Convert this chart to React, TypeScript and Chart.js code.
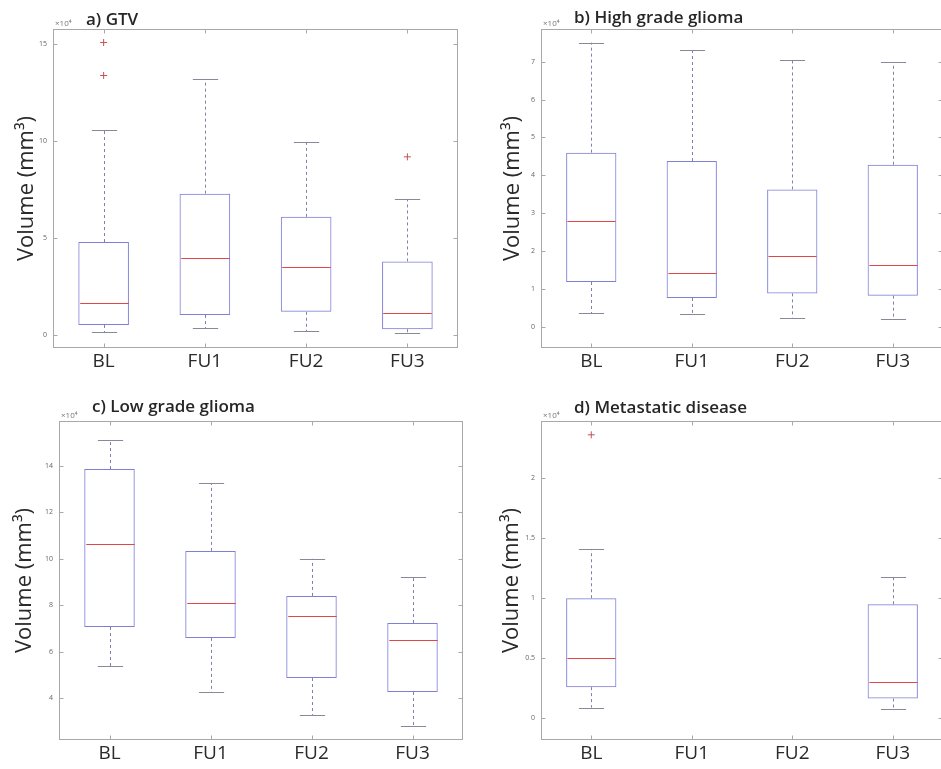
import React, { useEffect, useRef } from 'react';
import { Chart, registerables } from 'chart.js';

Chart.register(...registerables);

const FONT = '"Open Sans", sans-serif';
const BOX = '#7f7fd8';
const WHISK = '#8080b0';
const CAP = '#888898';
const MED = '#e04848';
const OUT = '#c85050';
const FRAME = '#a8a8a8';

// Categories (shared)
const categories = ['BL', 'FU1', 'FU2', 'FU3'];

// a) GTV (x10^4 mm^3)
const gtvMin = [0.15, 0.35, 0.2, 0.1];
const gtvQ1 = [0.52, 1.03, 1.2, 0.3];
const gtvMed = [1.65, 4.0, 3.5, 1.15];
const gtvQ3 = [4.8, 7.3, 6.1, 3.8];
const gtvMax = [10.6, 13.2, 9.95, 7.0];
const gtvOutliers = [[15.1, 13.4], [], [], [9.2]];
const gtvTicks = [0, 5, 10, 15];

// b) High grade glioma
const hggMin = [0.37, 0.35, 0.25, 0.21];
const hggQ1 = [1.19, 0.77, 0.89, 0.83];
const hggMed = [2.8, 1.42, 1.87, 1.65];
const hggQ3 = [4.6, 4.38, 3.63, 4.28];
const hggMax = [7.5, 7.3, 7.03, 6.98];
const hggOutliers = [[], [], [], []];
const hggTicks = [0, 1, 2, 3, 4, 5, 6, 7];

// c) Low grade glioma
const lggMin = [5.38, 4.26, 3.27, 2.8];
const lggQ1 = [7.06, 6.59, 4.86, 4.26];
const lggMed = [10.64, 8.1, 7.53, 6.5];
const lggQ3 = [13.87, 10.34, 8.4, 7.23];
const lggMax = [15.1, 13.27, 10.0, 9.22];
const lggOutliers = [[], [], [], []];
const lggTicks = [4, 6, 8, 10, 12, 14];

// d) Metastatic disease
const metMin = [0.09, null, null, 0.08];
const metQ1 = [0.26, null, null, 0.165];
const metMed = [0.5, null, null, 0.3];
const metQ3 = [1.0, null, null, 0.95];
const metMax = [1.41, null, null, 1.18];
const metOutliers = [[2.36], [], [], []];
const metTicks = [0, 0.5, 1, 1.5, 2];

type Panel = {
  title: string;
  min: (number | null)[];
  q1: (number | null)[];
  med: (number | null)[];
  q3: (number | null)[];
  max: (number | null)[];
  outliers: number[][];
  ticks: number[];
  yMin: number;
  yMax: number;
  left: number;
  top: number;
  width: number;
  height: number;
  yAxisW: number;
  xAxisH: number;
  padTop: number;
  padRight: number;
  labelPad: number;
  titleDy: number;
};

const panels: Panel[] = [
  {
    title: 'a) GTV', min: gtvMin, q1: gtvQ1, med: gtvMed, q3: gtvQ3, max: gtvMax,
    outliers: gtvOutliers, ticks: gtvTicks, yMin: -0.67, yMax: 15.8,
    left: 0, top: 0, width: 470, height: 380, yAxisW: 53, xAxisH: 32, padTop: 29, padRight: 12,
    labelPad: 14, titleDy: -4,
  },
  {
    title: 'b) High grade glioma', min: hggMin, q1: hggQ1, med: hggMed, q3: hggQ3, max: hggMax,
    outliers: hggOutliers, ticks: hggTicks, yMin: -0.55, yMax: 7.86,
    left: 470, top: 0, width: 480, height: 380, yAxisW: 71, xAxisH: 32, padTop: 29, padRight: 7,
    labelPad: 30, titleDy: -6,
  },
  {
    title: 'c) Low grade glioma', min: lggMin, q1: lggQ1, med: lggMed, q3: lggQ3, max: lggMax,
    outliers: lggOutliers, ticks: lggTicks, yMin: 2.19, yMax: 15.94,
    left: 0, top: 380, width: 470, height: 389, yAxisW: 59, xAxisH: 29, padTop: 41, padRight: 7,
    labelPad: 12, titleDy: -9,
  },
  {
    title: 'd) Metastatic disease', min: metMin, q1: metQ1, med: metMed, q3: metQ3, max: metMax,
    outliers: metOutliers, ticks: metTicks, yMin: -0.18, yMax: 2.475,
    left: 470, top: 380, width: 480, height: 389, yAxisW: 71, xAxisH: 29, padTop: 41, padRight: 7,
    labelPad: 29, titleDy: -8,
  },
];

function makePlugin(p: Panel) {
  return {
    id: 'boxExtras',
    afterDatasetsDraw(chart: any) {
      const ctx = chart.ctx;
      const xs = chart.scales.x;
      const ys = chart.scales.y;
      const step = xs.getPixelForValue(1) - xs.getPixelForValue(0);
      const hw = step * 0.25;
      ctx.save();
      ctx.lineWidth = 1;
      p.med.forEach((m, i) => {
        if (m == null) return;
        const cx = Math.round(xs.getPixelForValue(i)) + 0.5;
        const yLo = ys.getPixelForValue(p.min[i] as number);
        const yQ1 = ys.getPixelForValue(p.q1[i] as number);
        const yMd = ys.getPixelForValue(m);
        const yQ3 = ys.getPixelForValue(p.q3[i] as number);
        const yHi = ys.getPixelForValue(p.max[i] as number);
        ctx.strokeStyle = WHISK;
        ctx.setLineDash([3, 3]);
        ctx.beginPath();
        ctx.moveTo(cx, yQ3);
        ctx.lineTo(cx, yHi);
        ctx.moveTo(cx, yQ1);
        ctx.lineTo(cx, yLo);
        ctx.stroke();
        ctx.setLineDash([]);
        ctx.strokeStyle = CAP;
        ctx.beginPath();
        ctx.moveTo(cx - hw / 2, Math.round(yHi) + 0.5);
        ctx.lineTo(cx + hw / 2, Math.round(yHi) + 0.5);
        ctx.moveTo(cx - hw / 2, Math.round(yLo) + 0.5);
        ctx.lineTo(cx + hw / 2, Math.round(yLo) + 0.5);
        ctx.stroke();
        ctx.strokeStyle = MED;
        ctx.beginPath();
        ctx.moveTo(cx - hw + 1, Math.round(yMd) + 0.5);
        ctx.lineTo(cx + hw - 1, Math.round(yMd) + 0.5);
        ctx.stroke();
      });
      ctx.restore();
    },
    afterDraw(chart: any) {
      const ctx = chart.ctx;
      const a = chart.chartArea;
      const xs = chart.scales.x;
      const ys = chart.scales.y;
      ctx.save();
      ctx.strokeStyle = FRAME;
      ctx.lineWidth = 1;
      const L = Math.round(a.left) + 0.5;
      const R = Math.round(a.right) - 0.5;
      const T = Math.round(a.top) + 0.5;
      const B = Math.round(a.bottom) - 0.5;
      ctx.strokeRect(L, T, R - L, B - T);
      const tl = 4;
      ctx.beginPath();
      p.ticks.forEach((v) => {
        const y = Math.round(ys.getPixelForValue(v)) + 0.5;
        ctx.moveTo(L, y);
        ctx.lineTo(L + tl, y);
        ctx.moveTo(R, y);
        ctx.lineTo(R - tl, y);
      });
      categories.forEach((_, i) => {
        const x = Math.round(xs.getPixelForValue(i)) + 0.5;
        ctx.moveTo(x, B);
        ctx.lineTo(x, B - tl);
        ctx.moveTo(x, T);
        ctx.lineTo(x, T + tl);
      });
      ctx.stroke();
      ctx.fillStyle = '#777';
      ctx.font = `8px ${FONT}`;
      ctx.textAlign = 'left';
      ctx.textBaseline = 'alphabetic';
      ctx.fillText('\u00d710\u2074', a.left + 2, a.top - 3);
      ctx.fillStyle = '#262626';
      ctx.font = `600 17px ${FONT}`;
      ctx.fillText(p.title, a.left + 33, a.top + p.titleDy);
      ctx.restore();
    },
  };
}

function BoxPanel({ p }: { p: Panel }) {
  const ref = useRef<HTMLCanvasElement | null>(null);
  useEffect(() => {
    if (!ref.current) return;
    const boxes = categories.map((_, i) =>
      p.q1[i] == null ? null : [p.q1[i] as number, p.q3[i] as number]
    );
    const outPts: { x: string; y: number }[] = [];
    p.outliers.forEach((arr, i) => arr.forEach((v) => outPts.push({ x: categories[i], y: v })));
    const chart = new Chart(ref.current, {
      type: 'bar',
      data: {
        labels: categories,
        datasets: [
          {
            type: 'bar',
            data: boxes as any,
            backgroundColor: 'rgba(0,0,0,0)',
            borderColor: BOX,
            borderWidth: 1,
            borderSkipped: false,
            barPercentage: 0.5,
            categoryPercentage: 1,
          } as any,
          {
            type: 'line',
            data: outPts as any,
            showLine: false,
            pointStyle: 'cross',
            pointRadius: 3.5,
            pointBorderWidth: 1,
            borderColor: OUT,
            backgroundColor: OUT,
          } as any,
        ],
      },
      options: {
        responsive: false,
        animation: false,
        devicePixelRatio: 1,
        layout: { padding: { top: p.padTop, right: p.padRight, left: 0, bottom: 0 } },
        plugins: { legend: { display: false }, tooltip: { enabled: false } },
        scales: {
          x: {
            type: 'category',
            offset: true,
            grid: { display: false, drawTicks: false },
            border: { display: false },
            ticks: { color: '#2a2a2a', font: { family: FONT, size: 19 }, padding: 2, maxRotation: 0 },
            afterFit: (s: any) => { s.height = p.xAxisH; },
          },
          y: {
            type: 'linear',
            min: p.yMin,
            max: p.yMax,
            grid: { display: false, drawTicks: false },
            border: { display: false },
            ticks: { color: '#666', font: { family: FONT, size: 7 }, padding: 6, callback: (v: any) => String(v) },
            afterBuildTicks: (s: any) => { s.ticks = p.ticks.map((v) => ({ value: v })); },
            afterFit: (s: any) => { s.width = p.yAxisW; },
            title: {
              display: true,
              text: 'Volume (mm\u00b3)',
              color: '#2a2a2a',
              font: { family: FONT, size: 22 },
              padding: { top: p.labelPad, bottom: 0 },
            },
          },
        },
      } as any,
      plugins: [makePlugin(p)],
    });
    return () => chart.destroy();
  }, [p]);
  return (
    <canvas
      ref={ref}
      width={p.width}
      height={p.height}
      style={{ position: 'absolute', left: p.left, top: p.top, width: p.width, height: p.height }}
    />
  );
}

export default function App() {
  return (
    <div
      style={{
        position: 'absolute', left: 0, top: 0, width: 941, height: 769,
        overflow: 'hidden', background: '#fff',
      }}
    >
      {panels.map((p, i) => (
        <BoxPanel key={i} p={p} />
      ))}
    </div>
  );
}
